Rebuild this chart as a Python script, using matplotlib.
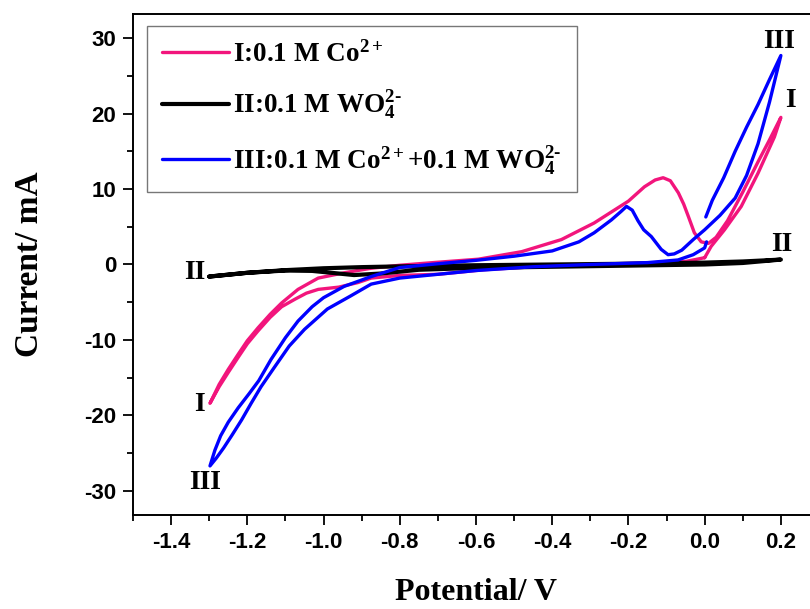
import matplotlib
matplotlib.use("Agg")
import matplotlib.pyplot as plt
from matplotlib.ticker import MultipleLocator

plt.rcParams["font.family"] = "Liberation Serif"
plt.rcParams["font.weight"] = "bold"
plt.rcParams["mathtext.fontset"] = "custom"
plt.rcParams["mathtext.rm"] = "Liberation Serif:bold"
plt.rcParams["mathtext.bf"] = "Liberation Serif:bold"
plt.rcParams["mathtext.it"] = "Liberation Serif:bold"

# curve I: 0.1 M Co2+ (potential V, current mA)
v_co = [0.0, -0.05, -0.15, -0.3, -0.45, -0.58, -0.7, -0.8, -0.875, -0.91, -0.96, -1.014,
        -1.045, -1.075, -1.11, -1.14, -1.172, -1.2, -1.224, -1.25, -1.274, -1.298,
        -1.274, -1.25, -1.224, -1.2, -1.172, -1.14, -1.11, -1.067, -1.014, -0.946, -0.875,
        -0.8, -0.7, -0.594, -0.48, -0.376, -0.29, -0.2, -0.158, -0.13, -0.109, -0.09,
        -0.069, -0.055, -0.043, -0.027, -0.009, 0.01, 0.03, 0.06, 0.1, 0.14, 0.17, 0.2,
        0.183, 0.14, 0.096, 0.052, 0.017, 0.0]
i_co = [0.9, 0.4, 0.2, 0.0, -0.3, -0.7, -1.3, -1.45, -1.8, -2.4, -3.0, -3.3,
        -3.8, -4.6, -5.6, -7.0, -8.8, -10.5, -12.3, -14.3, -16.2, -18.4,
        -15.9, -13.9, -11.9, -10.1, -8.4, -6.6, -5.1, -3.3, -1.8, -1.1, -0.5,
        -0.1, 0.3, 0.7, 1.7, 3.3, 5.5, 8.4, 10.3, 11.2, 11.5, 11.1,
        9.5, 8.0, 6.4, 4.2, 3.0, 2.8, 3.6, 5.8, 9.6, 13.6, 16.5, 19.5,
        16.9, 12.1, 7.7, 4.6, 2.4, 0.9]

# curve II: 0.1 M WO4 2-
v_w = [-1.3, -1.2, -1.1, -1.0, -0.9, -0.8, -0.6, -0.4, -0.2, 0.0, 0.1, 0.2,
       0.1, 0.0, -0.2, -0.4, -0.6, -0.75, -0.85, -0.92, -0.98, -1.03, -1.1, -1.2, -1.3]
i_w = [-1.6, -1.1, -0.75, -0.5, -0.35, -0.25, -0.1, 0.0, 0.1, 0.25, 0.4, 0.65,
       0.2, 0.0, -0.15, -0.3, -0.45, -0.7, -1.2, -1.4, -1.1, -0.85, -0.8, -1.1, -1.6]

# curve III: 0.1 M Co2+ + 0.1 M WO4 2-
v_mix = [0.005, 0.0, -0.03, -0.07, -0.15, -0.3, -0.45, -0.6, -0.7, -0.8, -0.875, -0.93,
         -0.99, -1.05, -1.09, -1.13, -1.164, -1.19, -1.215, -1.24, -1.262, -1.282, -1.298,
         -1.285, -1.27, -1.25, -1.224, -1.195, -1.17, -1.138, -1.1, -1.067, -1.03, -1.0,
         -0.946, -0.875, -0.8, -0.7, -0.6, -0.5, -0.4, -0.33, -0.29, -0.245, -0.22,
         -0.205, -0.19, -0.175, -0.16, -0.14, -0.114, -0.096, -0.08, -0.06, -0.03, 0.0,
         0.04, 0.08, 0.11, 0.14, 0.17, 0.2,
         0.17, 0.14, 0.11, 0.08, 0.05, 0.02, 0.003]
i_mix = [3.0, 2.2, 1.3, 0.6, 0.25, 0.0, -0.3, -0.8, -1.3, -1.8, -2.6, -4.2,
         -5.9, -8.6, -10.8, -13.7, -16.2, -18.4, -20.6, -22.6, -24.3, -25.7, -26.7,
         -24.6, -22.7, -20.9, -19.0, -17.1, -15.4, -12.6, -9.7, -7.5, -5.6, -4.4,
         -2.9, -1.6, -0.4, 0.1, 0.55, 1.1, 1.8, 3.0, 4.2, 5.9, 7.0,
         7.7, 7.2, 5.8, 4.6, 3.7, 2.0, 1.3, 1.4, 1.9, 3.3, 4.6,
         6.5, 8.8, 11.8, 16.0, 21.5, 27.7,
         24.5, 21.2, 18.2, 15.0, 11.5, 8.5, 6.3]

labels = ["I:0.1 M Co$^{2+}$",
          "II:0.1 M WO$_4^{2\u2010}$",
          "III:0.1 M Co$^{2+}$+0.1 M WO$_4^{2\u2010}$"]
colors = ["#F2157C", "black", "#0000FF"]

fig = plt.figure(figsize=(8.1, 6.09), dpi=100)
ax = fig.add_axes([0.1642, 0.1544, 0.8469, 0.8226])

for v, i, lab, c in zip([v_co, v_w, v_mix], [i_co, i_w, i_mix], labels, colors):
    lw = 3.0 if c == "black" else 2.4
    ax.plot(v, i, color=c, lw=lw, label=lab, solid_joinstyle="round",
            solid_capstyle="round")

# curve tags
tags = [("III", 0.196, 29.6), ("I", 0.225, 21.7), ("II", 0.201, 2.6),
        ("II", -1.337, -1.06), ("I", -1.326, -18.6), ("III", -1.311, -28.9)]
for t, x, y in tags:
    ax.text(x, y, t, fontsize=20, fontweight="bold", ha="center", va="center")

ax.set_xlim(-1.5, 0.3)
ax.set_ylim(-33.2, 33.2)
ax.xaxis.set_minor_locator(MultipleLocator(0.1))
ax.yaxis.set_minor_locator(MultipleLocator(5))
ax.set_xticks([-1.4, -1.2, -1.0, -0.8, -0.6, -0.4, -0.2, 0.0, 0.2])
ax.set_xticklabels(["-1.4", "-1.2", "-1.0", "-0.8", "-0.6", "-0.4", "-0.2", "0.0", "0.2"])
ax.set_yticks([30, 20, 10, 0, -10, -20, -30])
ax.set_yticklabels(["30", "20", "10", "0", "-10", "-20", "-30"])
ax.tick_params(which="major", direction="out", length=7, width=1.3, pad=5)
ax.tick_params(which="minor", direction="out", length=4.5, width=1.3)
for lbl in ax.get_xticklabels() + ax.get_yticklabels():
    lbl.set_family("Liberation Sans")
    lbl.set_fontweight("bold")
    lbl.set_fontsize(16)
for s in ax.spines.values():
    s.set_linewidth(1.4)

ax.set_xlabel("Potential/ V", fontsize=23, fontweight="bold", labelpad=18)
ax.set_ylabel("Current/ mA", fontsize=24, fontweight="bold", labelpad=28)

leg = ax.legend(loc="upper left", bbox_to_anchor=(0.02, 0.976), borderaxespad=0,
                prop={"family": "Liberation Serif", "weight": "bold", "size": 19.5},
                handlelength=2.5, handletextpad=0.15, labelspacing=0.8,
                borderpad=0.55, fancybox=False, framealpha=1)
leg.get_frame().set_edgecolor("#777777")
leg.get_frame().set_linewidth(1.0)

plt.savefig("out.png", dpi=100)
